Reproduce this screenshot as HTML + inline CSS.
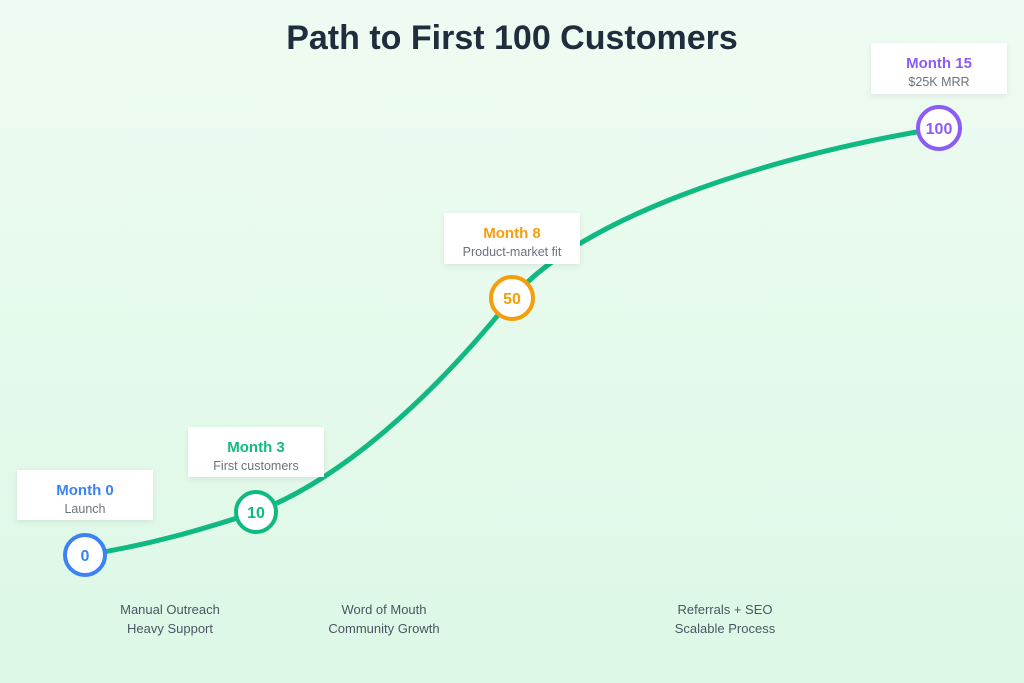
<!DOCTYPE html>
<html><head><meta charset="utf-8"><style>
html,body{margin:0;padding:0}
body{width:1024px;height:683px;overflow:hidden;background:linear-gradient(#effbf2,#dcf8e6);font-family:"Liberation Sans",sans-serif;position:relative}
h1{position:absolute;top:19px;left:0;width:1024px;text-align:center;margin:0;font-size:34px;font-weight:bold;color:#1f2d3d}
.box{position:absolute;background:#fff;box-shadow:0 2px 6px rgba(0,0,0,0.08);text-align:center}
.box b{display:block;font-size:15px;margin-top:12px}
.box span{display:block;font-size:12.5px;color:#6b7280;margin-top:3px}
.lbl{position:absolute;text-align:center;font-size:13px;color:#4b5563;line-height:19px}
svg{position:absolute;left:0;top:0}
</style></head><body>
<h1>Path to First 100 Customers</h1>
<svg width="1024" height="683">
<path d="M85,555 C150,545 200,530 256,512 C340,480 430,400 512,298 C580,220 750,160 939,128" fill="none" stroke="#10b981" stroke-width="5" stroke-linecap="round"/>
</svg>
<div class="box" style="left:17px;top:470px;width:136px;height:50px"><b style="color:#3b82f6">Month 0</b><span>Launch</span></div>
<div class="box" style="left:188px;top:427px;width:136px;height:50px"><b style="color:#10b981">Month 3</b><span>First customers</span></div>
<div class="box" style="left:444px;top:213px;width:136px;height:51px"><b style="color:#f59e0b">Month 8</b><span>Product-market fit</span></div>
<div class="box" style="left:871px;top:43px;width:136px;height:51px"><b style="color:#8b5cf6">Month 15</b><span>$25K MRR</span></div>
<svg width="1024" height="683">
<g font-family="Liberation Sans, sans-serif" font-weight="bold" text-anchor="middle">
<circle cx="85" cy="555" r="20" fill="#fff" stroke="#3b82f6" stroke-width="4"/>
<text x="85" y="561" font-size="16" fill="#3b82f6">0</text>
<circle cx="256" cy="512" r="20" fill="#fff" stroke="#10b981" stroke-width="4"/>
<text x="256" y="518" font-size="16" fill="#10b981">10</text>
<circle cx="512" cy="298" r="21" fill="#fff" stroke="#f59e0b" stroke-width="4"/>
<text x="512" y="304" font-size="16" fill="#f59e0b">50</text>
<circle cx="939" cy="128" r="21" fill="#fff" stroke="#8b5cf6" stroke-width="4"/>
<text x="939" y="134" font-size="16" fill="#8b5cf6">100</text>
</g></svg>
<div class="lbl" style="left:90px;top:600px;width:160px">Manual Outreach<br>Heavy Support</div>
<div class="lbl" style="left:304px;top:600px;width:160px">Word of Mouth<br>Community Growth</div>
<div class="lbl" style="left:645px;top:600px;width:160px">Referrals + SEO<br>Scalable Process</div>
</body></html>
